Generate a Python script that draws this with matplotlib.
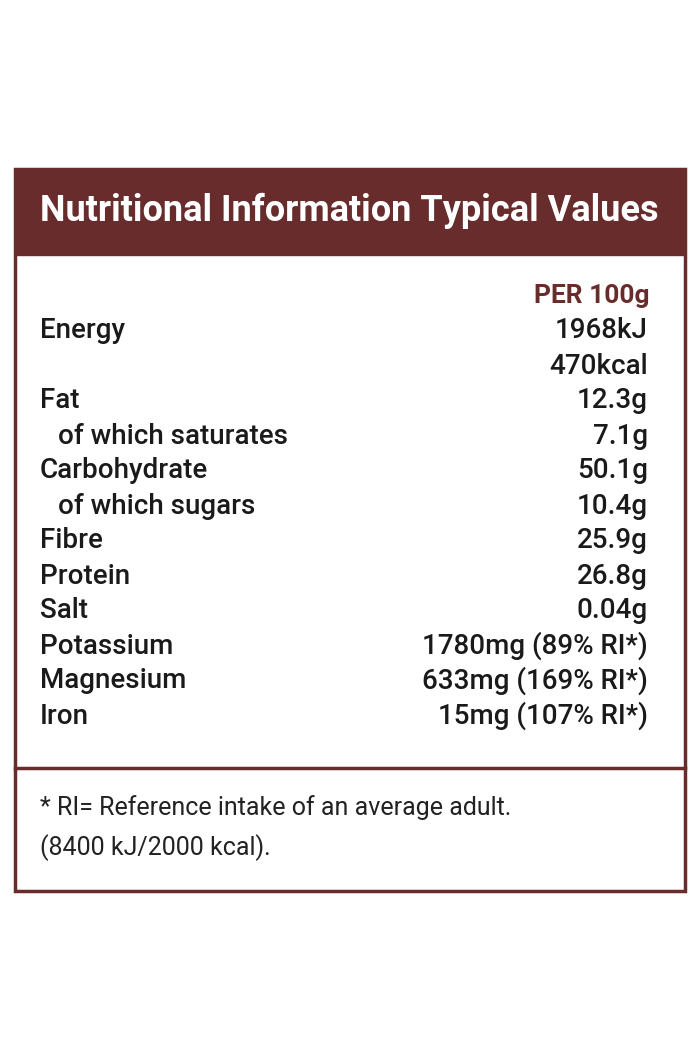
import matplotlib
matplotlib.use("Agg")
import matplotlib.pyplot as plt
from matplotlib.patches import Rectangle

title = "Nutritional Information Typical Values"
column_header = "PER 100g"
nutrients = ["Energy", "", "Fat", "of which saturates", "Carbohydrate", "of which sugars",
             "Fibre", "Protein", "Salt", "Potassium", "Magnesium", "Iron"]
indent = [False, False, False, True, False, True, False, False, False, False, False, False]
values = ["1968kJ", "470kcal", "12.3g", "7.1g", "50.1g", "10.4g", "25.9g", "26.8g",
          "0.04g", "1780mg (89% RI*)", "633mg (169% RI*)", "15mg (107% RI*)"]
footnote = ["* RI= Reference intake of an average adult.", "(8400 kJ/2000 kcal)."]

W, H = 700, 1050
fig = plt.figure(figsize=(7, 10.5), dpi=100)
ax = fig.add_axes([0, 0, 1, 1])
ax.set_xlim(0, W); ax.set_ylim(H, 0); ax.axis("off")

brown = "#682c2c"
ax.add_patch(Rectangle((15, 169), 670, 722, fill=False, ec=brown, lw=2.5))
ax.add_patch(Rectangle((15, 169), 670, 86, color=brown))
ax.plot([15, 685], [768, 768], color=brown, lw=2.5)

font = "Roboto"
ax.text(40, 211, title, color="white", fontsize=26, fontweight="bold", family=font,
        va="center", ha="left")
ax.text(650, 296, column_header, color=brown, fontsize=19, fontweight="bold", family=font,
        va="center", ha="right")
y0, dy = 331, 35
for i, (n, v) in enumerate(zip(nutrients, values)):
    y = y0 + i * dy
    ax.text(58 if indent[i] else 40, y, n, fontsize=20, family=font, fontweight="medium",
            color="#1a1a1a", va="center", ha="left")
    ax.text(648, y, v, fontsize=20, family=font, fontweight="medium", color="#1a1a1a",
            va="center", ha="right")
for i, line in enumerate(footnote):
    ax.text(40, 808 + i * 40, line, fontsize=18, family=font, color="#222222",
            va="center", ha="left")

fig.savefig("out.png", dpi=100, facecolor="white")
